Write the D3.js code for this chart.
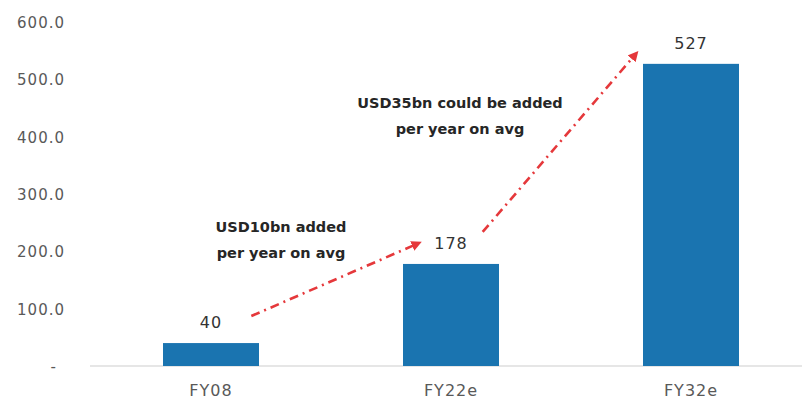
<!DOCTYPE html>
<html>
<head>
<meta charset="utf-8">
<script src="https://cdn.jsdelivr.net/npm/d3@7"></script>
<style>
  html, body { margin: 0; padding: 0; background: #fff; }
  svg { display: block; }
  text { font-family: "DejaVu Sans", sans-serif; }
</style>
</head>
<body>
<svg id="chart" width="802" height="404"></svg>
<script>
// Data
const categories = ["FY08", "FY22e", "FY32e"];
const values = [40, 178, 527];
const yTicks = [0, 100, 200, 300, 400, 500, 600];

// Growth annotation text, one block per arrow
const arrowLabels = [
  ["USD10bn added", "per year on avg"],
  ["USD35bn could be added", "per year on avg"]
];

const svg = d3.select("#chart");
const W = 802;

const x = d3.scaleBand().domain(categories).range([91, 811]).paddingInner(0.6).paddingOuter(0.3);
const y = d3.scaleLinear().domain([0, 600]).range([366, 22]);

// Baseline
svg.append("line")
  .attr("x1", 90).attr("x2", W)
  .attr("y1", y(0)).attr("y2", y(0))
  .attr("stroke", "#dedede").attr("stroke-width", 1.5);

// Y axis labels
const yAxis = d3.axisLeft(y).tickValues(yTicks).tickSize(0)
  .tickFormat(d => d === 0 ? "-" : d3.format(".1f")(d));
const gy = svg.append("g").attr("transform", "translate(65,0)").call(yAxis);
gy.select(".domain").remove();
gy.selectAll("text")
  .attr("fill", "#595959").style("font-size", "15px").style("letter-spacing", "1px")
  .attr("x", 0).attr("dy", "0.36em");
gy.selectAll(".tick").filter(d => d === 0).select("text").attr("x", -8);

// X axis labels
const xAxis = d3.axisBottom(x).tickSize(0);
const gx = svg.append("g").attr("transform", `translate(0,${y(0)})`).call(xAxis);
gx.select(".domain").remove();
gx.selectAll("text")
  .attr("fill", "#595959").style("font-size", "16px").style("letter-spacing", "1px")
  .attr("y", 30).attr("dy", 0);

// Bars
svg.selectAll("rect.bar").data(values).join("rect")
  .attr("class", "bar")
  .attr("x", (d, i) => x(categories[i]))
  .attr("width", x.bandwidth())
  .attr("y", d => y(d))
  .attr("height", d => y(0) - y(d))
  .attr("fill", "#1a74b0");

// Value labels
svg.selectAll("text.val").data(values).join("text")
  .attr("class", "val")
  .attr("x", (d, i) => x(categories[i]) + x.bandwidth() / 2)
  .attr("y", d => y(d) - 15)
  .attr("text-anchor", "middle")
  .attr("fill", "#333")
  .style("font-size", "16px").style("letter-spacing", "1px")
  .text(d => d);

// Arrow marker
svg.append("defs").append("marker")
  .attr("id", "head").attr("viewBox", "0 0 10 10")
  .attr("refX", 5).attr("refY", 5)
  .attr("markerWidth", 4).attr("markerHeight", 4)
  .attr("orient", "auto")
  .append("path").attr("d", "M0,0 L10,5 L0,10 Z").attr("fill", "#e5383b");

// Dash-dot growth arrows between bars
const arrows = [
  { x1: x("FY08") + x.bandwidth() * 0.92, y1: y(values[0]) - 27, x2: x("FY22e") + 14, y2: y(values[1]) - 20 },
  { x1: x("FY22e") + x.bandwidth() * 0.83, y1: y(values[1]) - 32, x2: x("FY32e") - 8, y2: y(values[2]) - 9 }
];
svg.selectAll("line.arrow").data(arrows).join("line")
  .attr("class", "arrow")
  .attr("x1", d => d.x1).attr("y1", d => d.y1)
  .attr("x2", d => d.x2).attr("y2", d => d.y2)
  .attr("stroke", "#e5383b").attr("stroke-width", 2.6)
  .attr("stroke-dasharray", "9,5,2,5")
  .attr("marker-end", "url(#head)");

// Annotation text
const notePos = [
  { cx: 281, cy: 232 },
  { cx: 460, cy: 108 }
];
arrowLabels.forEach((lines, i) => {
  const t = svg.append("text")
    .attr("x", notePos[i].cx).attr("y", notePos[i].cy)
    .attr("text-anchor", "middle")
    .attr("fill", "#262626")
    .style("font-size", "14.5px").style("font-weight", "bold");
  lines.forEach((l, j) => {
    t.append("tspan").attr("x", notePos[i].cx).attr("dy", j === 0 ? 0 : 26).text(l);
  });
});
</script>
</body>
</html>
